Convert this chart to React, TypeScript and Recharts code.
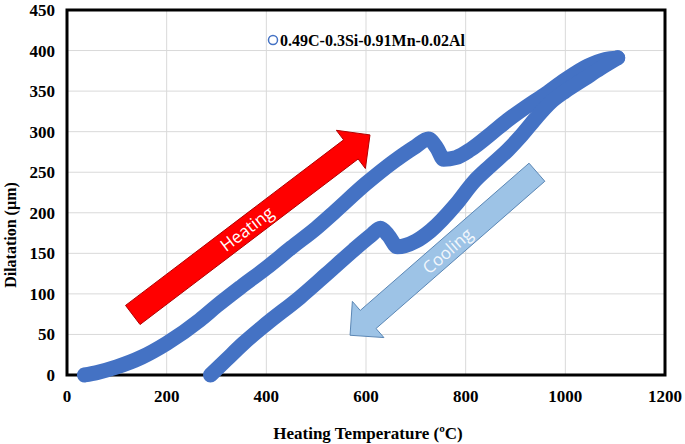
import { LineChart, Line, XAxis, YAxis, CartesianGrid, ReferenceArea, ReferenceLine, Legend } from 'recharts'

const temperatureTicks = [0, 200, 400, 600, 800, 1000, 1200]
const dilatationTicks = [0, 50, 100, 150, 200, 250, 300, 350, 400, 450]

// heating branch (°C, µm)
const heatingTemp = [35, 60, 100, 150, 200, 267, 300, 350, 400, 450, 500, 535, 600, 655, 700, 725, 742, 756, 780, 810, 850, 884, 920, 957, 1000, 1045, 1080, 1105]
const heatingDil = [0, 3, 10, 22, 39, 68, 85, 109, 132, 157, 181, 200, 236, 263, 282, 291, 280, 266, 268, 278, 297, 314, 330, 345, 364, 381, 389, 391]

// cooling branch (°C, µm)
const coolingTemp = [288, 320, 354, 400, 468, 520, 575, 610, 629, 645, 663, 700, 730, 780, 816, 850, 884, 910, 940, 970, 1000, 1040, 1070, 1105]
const coolingDil = [0, 19, 39, 63, 96, 124, 154, 172, 181, 172, 158, 165, 178, 210, 238, 258, 277, 294, 316, 336, 350, 366, 378, 391]

const heatingData = heatingTemp.map((t, i) => ({ t, d: heatingDil[i] }))
const coolingData = coolingTemp.map((t, i) => ({ t, d: coolingDil[i] }))

const SERIES_COLOR = '#4472C4'
const SERIF = '"Liberation Serif", "Times New Roman", serif'
const tickStyle = { fontFamily: SERIF, fontWeight: 700, fontSize: 17, fill: '#000' }

function BlockArrow(props: any) {
  const { x1, y1, x2, y2, fill, stroke, text, textColor } = props
  if ([x1, y1, x2, y2].some((v) => typeof v !== 'number')) return null
  const dx = x2 - x1
  const dy = y2 - y1
  const len = Math.hypot(dx, dy)
  const ux = dx / len
  const uy = dy / len
  const nx = -uy
  const ny = ux
  const shaft = 12
  const head = 24
  const headLen = 24
  const bx = x2 - ux * headLen
  const by = y2 - uy * headLen
  const pts = [
    [x1 + nx * shaft, y1 + ny * shaft],
    [bx + nx * shaft, by + ny * shaft],
    [bx + nx * head, by + ny * head],
    [x2, y2],
    [bx - nx * head, by - ny * head],
    [bx - nx * shaft, by - ny * shaft],
    [x1 - nx * shaft, y1 - ny * shaft],
  ]
  let angle = (Math.atan2(dy, dx) * 180) / Math.PI
  if (angle > 90) angle -= 180
  if (angle < -90) angle += 180
  const tx = x1 + dx * 0.48
  const ty = y1 + dy * 0.48
  return (
    <g>
      <polygon points={pts.map((p) => p.join(',')).join(' ')} fill={fill} stroke={stroke} strokeWidth={1} />
      <text
        x={tx}
        y={ty}
        transform={`rotate(${angle} ${tx} ${ty})`}
        textAnchor="middle"
        dominantBaseline="central"
        fill={textColor}
        fontFamily='"Open Sans", sans-serif'
        fontSize={17}
      >
        {text}
      </text>
    </g>
  )
}

function LegendContent() {
  return (
    <svg width={240} height={22}>
      <circle cx={6} cy={10} r={4.5} fill="#fff" stroke={SERIES_COLOR} strokeWidth={1.5} />
      <text x={13} y={15.5} fontFamily={SERIF} fontWeight={700} fontSize={16} fill="#000">
        0.49C-0.3Si-0.91Mn-0.02Al
      </text>
    </svg>
  )
}

export default function App() {
  return (
    <div style={{ position: 'absolute', left: 0, top: 0, background: '#fff' }}>
      <LineChart width={685} height={444} margin={{ top: 10, right: 20, left: 0, bottom: 0 }}>
        <CartesianGrid stroke="#d9d9d9" strokeWidth={1} />
        <XAxis
          type="number"
          dataKey="t"
          domain={[0, 1200]}
          ticks={temperatureTicks}
          axisLine={false}
          tickLine={false}
          tickSize={0}
          tickMargin={15}
          height={69}
          tick={tickStyle}
          label={{
            value: 'Heating Temperature (ºC)',
            content: () => (
              <text x={368} y={433} textAnchor="middle" dominantBaseline="central" fontFamily={SERIF} fontWeight={700} fontSize={17} fill="#000">
                Heating Temperature (ºC)
              </text>
            ),
          }}
        />
        <YAxis
          type="number"
          domain={[0, 450]}
          ticks={dilatationTicks}
          axisLine={false}
          tickLine={false}
          tickSize={0}
          tickMargin={12}
          width={67}
          tick={tickStyle}
          label={{
            value: 'Dilatation (µm)',
            content: () => (
              <text x={10} y={235} transform="rotate(-90 10 235)" textAnchor="middle" dominantBaseline="central" fontFamily={SERIF} fontWeight={700} fontSize={16} fill="#000">
                Dilatation (µm)
              </text>
            ),
          }}
        />
        <ReferenceArea x1={0} x2={1200} y1={0} y2={450} fill="none" stroke="#000" strokeWidth={3} />
        <Legend
          layout="horizontal"
          verticalAlign="middle"
          align="center"
          content={<LegendContent />}
          wrapperStyle={{ left: 267, top: 30, width: 240, height: 22 }}
        />
        <Line
          data={heatingData}
          dataKey="d"
          type="monotone"
          stroke={SERIES_COLOR}
          strokeWidth={15}
          strokeLinecap="round"
          strokeLinejoin="round"
          dot={false}
          activeDot={false}
          legendType="none"
          isAnimationActive={false}
        />
        <Line
          data={coolingData}
          dataKey="d"
          type="monotone"
          stroke={SERIES_COLOR}
          strokeWidth={15}
          strokeLinecap="round"
          strokeLinejoin="round"
          dot={false}
          activeDot={false}
          legendType="none"
          isAnimationActive={false}
        />
        <ReferenceLine
          segment={[{ x: 132, y: 74 }, { x: 608, y: 296 }]}
          shape={(p: any) => <BlockArrow {...p} fill="#FF0000" stroke="#B00000" text="Heating" textColor="#fff" />}
        />
        <ReferenceLine
          segment={[{ x: 943, y: 250 }, { x: 568, y: 49 }]}
          shape={(p: any) => <BlockArrow {...p} fill="#9DC3E6" stroke="#5B87B5" text="Cooling" textColor="#F2F7FC" />}
        />
      </LineChart>
    </div>
  )
}
